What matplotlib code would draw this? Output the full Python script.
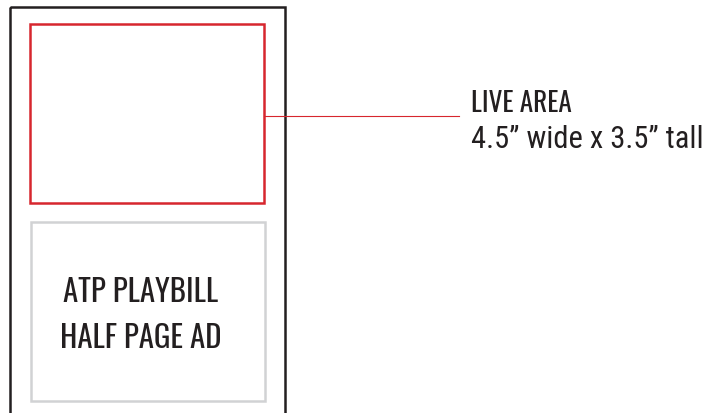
import matplotlib
matplotlib.use("Agg")
import matplotlib.pyplot as plt
from matplotlib.patches import Rectangle

# Layout of the ad sheet (pixels, y from top)
page_box = (10, 8, 275, 420)        # x, y, width, height (bottom runs off the sheet)
live_box = (30, 25, 234, 179)
ad_box = (31, 223, 234, 179)
leader_y = 117
leader_x = (264, 459)

live_title = "LIVE AREA"
live_size = "4.5\u201d wide x 3.5\u201d tall"
ad_lines = ["ATP PLAYBILL", "HALF PAGE AD"]

red = "#d7262e"
dark = "#231f20"
grey = "#d1d2d4"

fig = plt.figure(figsize=(7.09, 4.14), dpi=100)
ax = fig.add_axes([0, 0, 1, 1])
ax.set_xlim(0, 709)
ax.set_ylim(414, 0)
ax.axis("off")

ax.add_patch(Rectangle(page_box[:2], page_box[2], page_box[3], fill=False,
                       edgecolor=dark, linewidth=1.8))
ax.add_patch(Rectangle(live_box[:2], live_box[2], live_box[3], fill=False,
                       edgecolor=red, linewidth=1.8))
ax.add_patch(Rectangle(ad_box[:2], ad_box[2], ad_box[3], fill=False,
                       edgecolor=grey, linewidth=1.8))
ax.plot(leader_x, [leader_y, leader_y], color=red, linewidth=0.8)

ax.text(471, 112, live_title, fontsize=19.6, va="baseline", ha="left",
        family="Oswald", color=dark)
ax.text(471, 148, live_size, fontsize=22, va="baseline", ha="left",
        family="Roboto Condensed", color=dark)
ax.text(141, 302, ad_lines[0], fontsize=22.2, va="baseline", ha="center",
        family="Oswald", color=dark)
ax.text(141, 348, ad_lines[1], fontsize=22.2, va="baseline", ha="center",
        family="Oswald", color=dark)

fig.savefig("out.png", dpi=100)
